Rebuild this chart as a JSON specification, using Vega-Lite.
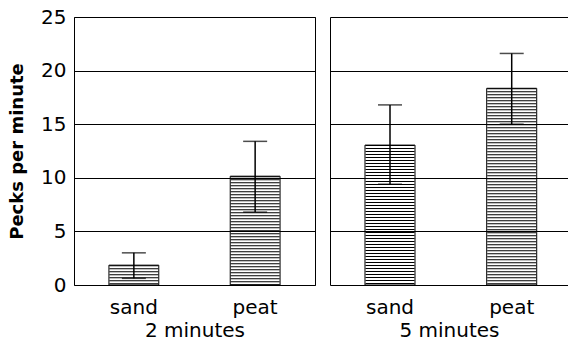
{
  "$schema": "https://vega.github.io/schema/vega-lite/v6.json",
  "padding": {"left": 8, "top": 6, "right": 0, "bottom": 0},
  "data": {"values": [
    {"time": "2 minutes", "substrate": "sand", "mean": 1.85, "lower": 0.62, "upper": 3.0},
    {"time": "2 minutes", "substrate": "peat", "mean": 10.15, "lower": 6.8, "upper": 13.4},
    {"time": "5 minutes", "substrate": "sand", "mean": 13.05, "lower": 9.4, "upper": 16.8},
    {"time": "5 minutes", "substrate": "peat", "mean": 18.35, "lower": 15.0, "upper": 21.6}
  ]},
  "spacing": 14,
  "resolve": {"scale": {"x": "independent", "y": "independent"}},
  "hconcat": [
    {
      "width": 241,
      "height": 268,
      "transform": [{"filter": "datum.time === '2 minutes'"}],
      "encoding": {
        "x": {"field": "substrate", "type": "nominal", "sort": ["sand", "peat"],
              "scale": {"paddingInner": 0.589, "paddingOuter": 0.288},
              "axis": {"title": "2 minutes", "titleFontSize": 20, "titleFontWeight": "normal", "titleColor": "black", "titlePadding": 3,
                       "labelAngle": 0, "ticks": false, "domain": false, "labelFontSize": 20, "labelPadding": 12, "labelColor": "black"}}
      },
      "layer": [
        {
          "mark": {"type": "rule", "strokeWidth": 49, "strokeDash": [1, 2], "color": "black", "strokeCap": "butt"},
          "encoding": {
            "y": {"field": "mean", "type": "quantitative", "scale": {"domain": [0, 25], "nice": false},
                  "axis": {"title": "Pecks per minute", "titleFontSize": 18, "titleFontWeight": "bold", "titleColor": "black", "titlePadding": 14,
                           "values": [0, 5, 10, 15, 20, 25], "ticks": false, "domain": false, "labelFontSize": 20, "labelPadding": 8, "labelColor": "black",
                           "grid": true, "gridColor": "black", "gridOpacity": 1, "gridWidth": 1, "zindex": 1}},
            "y2": {"datum": 0}
          }
        },
        {
          "mark": {"type": "bar", "filled": false, "color": "black", "strokeWidth": 1},
          "encoding": {"y": {"field": "mean", "type": "quantitative"}}
        },
        {
          "mark": {"type": "rule", "color": "black", "strokeWidth": 1.5},
          "encoding": {"y": {"field": "lower", "type": "quantitative"}, "y2": {"field": "upper"}}
        },
        {
          "mark": {"type": "tick", "color": "black", "size": 24, "thickness": 1.5},
          "encoding": {"y": {"field": "upper", "type": "quantitative"}}
        },
        {
          "mark": {"type": "tick", "color": "black", "size": 24, "thickness": 1.5},
          "encoding": {"y": {"field": "lower", "type": "quantitative"}}
        }
      ]
    },
    {
      "width": 238,
      "height": 268,
      "view": {"stroke": null},
      "transform": [{"filter": "datum.time === '5 minutes'"}],
      "encoding": {
        "x": {"field": "substrate", "type": "nominal", "sort": ["sand", "peat"],
              "scale": {"paddingInner": 0.589, "paddingOuter": 0.2723, "align": 0.528},
              "axis": {"title": "5 minutes", "titleFontSize": 20, "titleFontWeight": "normal", "titleColor": "black", "titlePadding": 3,
                       "labelAngle": 0, "ticks": false, "domain": false, "labelFontSize": 20, "labelPadding": 12, "labelColor": "black"}}
      },
      "layer": [
        {
          "mark": {"type": "rule", "strokeWidth": 49, "strokeDash": [1, 2], "color": "black", "strokeCap": "butt"},
          "encoding": {
            "y": {"field": "mean", "type": "quantitative", "scale": {"domain": [0, 25], "nice": false},
                  "axis": {"title": null, "labels": false,
                           "values": [0, 5, 10, 15, 20, 25], "ticks": false, "domain": true, "domainColor": "black", "domainWidth": 1,
                           "grid": true, "gridColor": "black", "gridOpacity": 1, "gridWidth": 1, "zindex": 1}},
            "y2": {"datum": 0}
          }
        },
        {
          "mark": {"type": "bar", "filled": false, "color": "black", "strokeWidth": 1},
          "encoding": {"y": {"field": "mean", "type": "quantitative"}}
        },
        {
          "mark": {"type": "rule", "color": "black", "strokeWidth": 1.5},
          "encoding": {"y": {"field": "lower", "type": "quantitative"}, "y2": {"field": "upper"}}
        },
        {
          "mark": {"type": "tick", "color": "black", "size": 24, "thickness": 1.5},
          "encoding": {"y": {"field": "upper", "type": "quantitative"}}
        },
        {
          "mark": {"type": "tick", "color": "black", "size": 24, "thickness": 1.5},
          "encoding": {"y": {"field": "lower", "type": "quantitative"}}
        }
      ]
    }
  ],
  "config": {
    "font": "DejaVu Sans",
    "view": {"stroke": "black", "strokeWidth": 1}
  }
}
